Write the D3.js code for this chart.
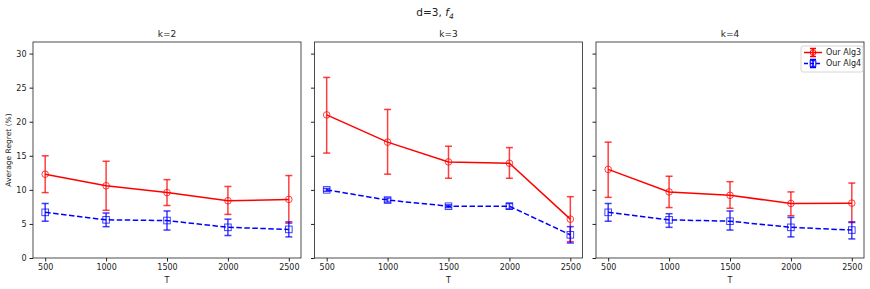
<!DOCTYPE html>
<html>
<head>
<meta charset="utf-8">
<script src="https://cdn.jsdelivr.net/npm/d3@7"></script>
<style>
  body { margin: 0; background: #fff; }
  text { font-family: "DejaVu Sans", sans-serif; fill: #222; }
</style>
</head>
<body>
<script>
const T = [500, 1000, 1500, 2000, 2500];
const yTicks = [0, 5, 10, 15, 20, 25, 30];
const panels = ["k=2", "k=3", "k=4"];

// Our Alg3: mean, lower, upper per panel
const alg3Mean = [
  [12.3, 10.6, 9.6, 8.4, 8.6],
  [21.0, 17.0, 14.1, 13.9, 5.7],
  [13.0, 9.7, 9.2, 8.0, 8.05]
];
const alg3Lo = [
  [9.6, 7.0, 7.7, 6.4, 5.1],
  [15.4, 12.3, 11.7, 11.7, 2.4],
  [8.9, 7.4, 7.3, 6.2, 5.2]
];
const alg3Hi = [
  [15.0, 14.2, 11.5, 10.5, 12.1],
  [26.5, 21.8, 16.4, 16.2, 9.0],
  [17.0, 12.0, 11.2, 9.7, 11.0]
];
// Our Alg4
const alg4Mean = [
  [6.7, 5.6, 5.5, 4.5, 4.2],
  [10.0, 8.5, 7.6, 7.6, 3.4],
  [6.7, 5.6, 5.4, 4.5, 4.1]
];
const alg4Lo = [
  [5.4, 4.6, 4.1, 3.3, 3.1],
  [9.8, 8.2, 7.4, 7.2, 2.2],
  [5.4, 4.5, 4.1, 3.1, 2.8]
];
const alg4Hi = [
  [8.0, 6.6, 6.9, 5.7, 5.3],
  [10.2, 8.8, 7.8, 8.0, 4.6],
  [8.0, 6.5, 6.9, 5.95, 5.3]
];

const series = [
  { name: "Our Alg3", color: "red", dash: null, marker: "circle", mean: alg3Mean, lo: alg3Lo, hi: alg3Hi },
  { name: "Our Alg4", color: "blue", dash: "5.5,2.5", marker: "square", mean: alg4Mean, lo: alg4Lo, hi: alg4Hi }
];

const W = 870, H = 289;
const svg = d3.select("body").append("svg").attr("width", W).attr("height", H);

const panelLeft = [33, 314.5, 596];
const panelW = 268;
const plotTop = 42, plotBottom = 258;

const y = d3.scaleLinear().domain([0, 31.7]).range([plotBottom, plotTop]);

svg.append("text").attr("x", 435).attr("y", 16).attr("text-anchor", "middle")
  .style("font-size", "10.5px")
  .html('d=3, <tspan font-style="italic">f</tspan><tspan font-style="italic" dy="2.5" font-size="7.5px">4</tspan>');

panels.forEach((title, p) => {
  const x = d3.scaleLinear().domain([400, 2600]).range([panelLeft[p], panelLeft[p] + panelW]);
  const g = svg.append("g");

  g.append("text").attr("x", panelLeft[p] + panelW / 2).attr("y", 37)
    .attr("text-anchor", "middle").style("font-size", "9px").text(title);

  const xa = g.append("g").attr("transform", `translate(0,${plotBottom})`)
    .call(d3.axisBottom(x).tickValues(T).tickFormat(d3.format("d")).tickSize(3.5).tickPadding(3));
  xa.select(".domain").remove();
  xa.selectAll("text").style("font-size", "8px");
  xa.selectAll("line").attr("stroke", "#222");

  const ya = g.append("g").attr("transform", `translate(${panelLeft[p]},0)`)
    .call(d3.axisLeft(y).tickValues(yTicks).tickSize(3.5).tickPadding(3));
  ya.select(".domain").remove();
  ya.selectAll("line").attr("stroke", "#222");
  ya.selectAll("text").style("font-size", "8px");
  if (p > 0) ya.selectAll("text").remove();

  g.append("text").attr("x", panelLeft[p] + panelW / 2).attr("y", 283)
    .attr("text-anchor", "middle").style("font-size", "8px").text("T");

  series.forEach(s => {
    const m = s.mean[p];
    const line = d3.line().x((d, i) => x(T[i])).y(d => y(d));
    g.append("path").datum(m).attr("d", line).attr("fill", "none")
      .attr("stroke", s.color).attr("stroke-width", 1.5)
      .attr("stroke-dasharray", s.dash);
    T.forEach((t, i) => {
      const cx = x(t);
      g.append("line").attr("x1", cx).attr("x2", cx)
        .attr("y1", y(s.lo[p][i])).attr("y2", y(s.hi[p][i]))
        .attr("stroke", s.color).attr("stroke-width", 1.5).attr("opacity", 0.75);
      [s.lo[p][i], s.hi[p][i]].forEach(v => {
        g.append("line").attr("x1", cx - 3.5).attr("x2", cx + 3.5)
          .attr("y1", y(v)).attr("y2", y(v))
          .attr("stroke", s.color).attr("stroke-width", 1.5).attr("opacity", 0.75);
      });
      if (s.marker === "circle") {
        g.append("circle").attr("cx", cx).attr("cy", y(m[i])).attr("r", 3.3)
          .attr("fill", "none").attr("stroke", s.color).attr("stroke-width", 1).attr("opacity", 0.75);
      } else {
        g.append("rect").attr("x", cx - 3.3).attr("y", y(m[i]) - 3.3)
          .attr("width", 6.6).attr("height", 6.6)
          .attr("fill", "none").attr("stroke", s.color).attr("stroke-width", 1).attr("opacity", 0.75);
      }
    });
  });

  g.append("rect").attr("x", panelLeft[p]).attr("y", plotTop)
    .attr("width", panelW).attr("height", plotBottom - plotTop)
    .attr("fill", "none").attr("stroke", "#222").attr("stroke-width", 0.8);
});

svg.append("text").attr("transform", `translate(11,${(plotTop + plotBottom) / 2}) rotate(-90)`)
  .attr("text-anchor", "middle").style("font-size", "7.5px").text("Average Regret (%)");

// legend
const lg = svg.append("g").attr("transform", "translate(801,46)");
lg.append("rect").attr("width", 62).attr("height", 26).attr("rx", 2)
  .attr("fill", "#fff").attr("stroke", "#ccc").attr("stroke-width", 0.8);
series.forEach((s, i) => {
  const ly = 6.5 + i * 11;
  lg.append("line").attr("x1", 3).attr("x2", 21).attr("y1", ly).attr("y2", ly)
    .attr("stroke", s.color).attr("stroke-width", 1.5).attr("stroke-dasharray", s.dash ? "4,2" : null);
  lg.append("line").attr("x1", 12).attr("x2", 12).attr("y1", ly - 4).attr("y2", ly + 4)
    .attr("stroke", s.color).attr("stroke-width", 1.5);
  [ly - 4, ly + 4].forEach(v => lg.append("line").attr("x1", 9).attr("x2", 15)
    .attr("y1", v).attr("y2", v).attr("stroke", s.color).attr("stroke-width", 1.5));
  if (s.marker === "circle") {
    lg.append("circle").attr("cx", 12).attr("cy", ly).attr("r", 2.8)
      .attr("fill", "none").attr("stroke", s.color).attr("stroke-width", 1);
  } else {
    lg.append("rect").attr("x", 9.2).attr("y", ly - 2.8).attr("width", 5.6).attr("height", 5.6)
      .attr("fill", "none").attr("stroke", s.color).attr("stroke-width", 1);
  }
  lg.append("text").attr("x", 25).attr("y", ly + 2.8).style("font-size", "8px").text(s.name);
});
</script>
</body>
</html>
